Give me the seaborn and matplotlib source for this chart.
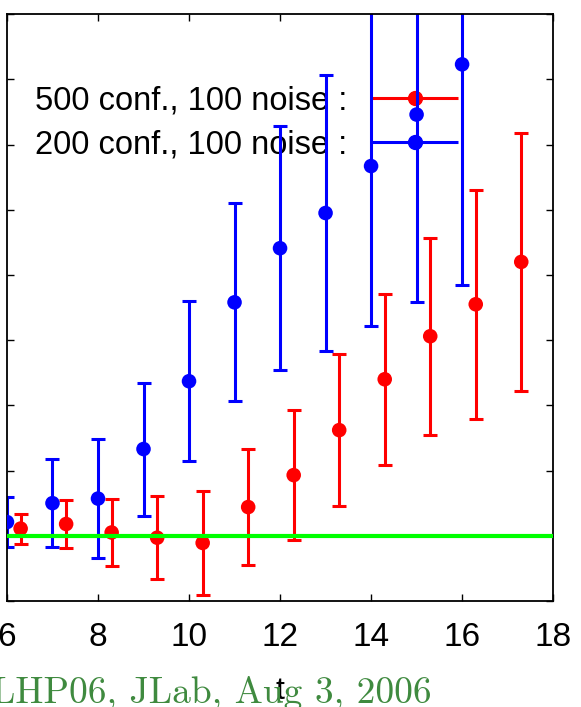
import numpy as np
import pandas as pd
import matplotlib
matplotlib.use("Agg")
import matplotlib.pyplot as plt
import seaborn as sns
from matplotlib.legend_handler import HandlerErrorbar
from matplotlib.container import ErrorbarContainer

# blue series: 200 conf., 100 noise
t_blue = [6, 7, 8, 9, 10, 11, 12, 13, 14, 15, 16]
y_blue = [0.21, 0.50, 0.57, 1.33, 2.37, 3.58, 4.41, 4.95, 5.67, 6.46, 7.23]
e_blue = [0.39, 0.68, 0.91, 1.02, 1.23, 1.52, 1.87, 2.12, 2.45, 2.88, 3.39]

# red series: 500 conf., 100 noise
t_red = [6.3, 7.3, 8.3, 9.3, 10.3, 11.3, 12.3, 13.3, 14.3, 15.3, 16.3, 17.3]
y_red = [0.11, 0.18, 0.05, -0.03, -0.11, 0.44, 0.93, 1.62, 2.40, 3.06, 3.55, 4.20]
e_red = [0.23, 0.37, 0.52, 0.64, 0.80, 0.89, 1.00, 1.16, 1.31, 1.51, 1.76, 1.98]

label_red = "500 conf., 100 noise :"
label_blue = "200 conf., 100 noise :"
x_ticks = [6, 8, 10, 12, 14, 16, 18]
y_ticks = [-1, 0, 1, 2, 3, 4, 5, 6, 7, 8]
ref_level = 0.0
footer = "LHP06, JLab, Aug 3, 2006"

sns.set_style("ticks")
plt.rcParams['font.family'] = ['Liberation Sans', 'DejaVu Sans']
plt.rcParams['text.color'] = 'black'
plt.rcParams['axes.labelcolor'] = 'black'

fig = plt.figure(figsize=(5.81, 7.07), dpi=100)
ax = fig.add_axes([0.012, 0.150, 0.940, 0.830])

df_red = pd.DataFrame({"t": t_red, "y": y_red})
df_blue = pd.DataFrame({"t": t_blue, "y": y_blue})

bar_kw = dict(fmt="none", elinewidth=2.2, capsize=5, capthick=2.2)
ax.errorbar(t_red, y_red, yerr=e_red, ecolor="#ff0000", zorder=2, **bar_kw)
sns.scatterplot(data=df_red, x="t", y="y", color="#ff0000", s=110,
                edgecolor="none", zorder=3, ax=ax, legend=False)
ax.errorbar(t_blue, y_blue, yerr=e_blue, ecolor="#0000ff", zorder=2, **bar_kw)
sns.scatterplot(data=df_blue, x="t", y="y", color="#0000ff", s=110,
                edgecolor="none", zorder=3, ax=ax, legend=False)

ax.axhline(ref_level, color="#00ff00", lw=3.0, zorder=4)

# legend keys drawn gnuplot style: horizontal error bar
h_red = ax.errorbar([], [], xerr=[], fmt="o", color="#ff0000", ms=10,
                    elinewidth=2.2, capsize=5, capthick=2.2, label=label_red)
h_blue = ax.errorbar([], [], xerr=[], fmt="o", color="#0000ff", ms=10,
                     elinewidth=2.2, capsize=5, capthick=2.2, label=label_blue)
leg = ax.legend(handles=[h_red, h_blue], loc="upper right",
                bbox_to_anchor=(0.826, 0.878), frameon=False, fontsize=23.5,
                markerfirst=False, handlelength=2.65, handletextpad=0.75,
                labelspacing=0.38, borderpad=0, borderaxespad=0, numpoints=1,
                handler_map={ErrorbarContainer: HandlerErrorbar(xerr_size=1.32)})
leg.set_zorder(1)

ax.set_xlim(6, 18)
ax.set_ylim(-1, 8)
ax.set_xticks(x_ticks)
ax.set_yticks(y_ticks)
ax.set_yticklabels([])
ax.tick_params(direction="in", length=5, width=1, top=True, right=True,
               labelsize=24, pad=15, colors="black")
for s in ax.spines.values():
    s.set_linewidth(1.3)
    s.set_color("black")
ax.set_xlabel("t", fontsize=23, labelpad=17)
ax.set_ylabel("")

fig.text(-0.013, 0.006, footer, color="#3f8a3f", fontsize=27,
         family="cmr10", ha="left", va="baseline")

fig.savefig("out.png", dpi=100)
